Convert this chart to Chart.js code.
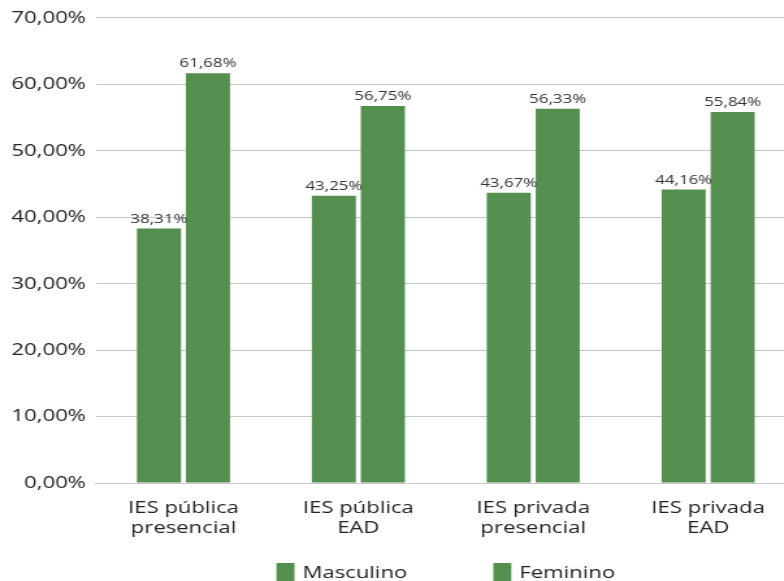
<!DOCTYPE html>
<html>
<head>
<meta charset="utf-8">
<script src="https://cdn.jsdelivr.net/npm/chart.js@4/dist/chart.umd.min.js"></script>
<style>
  html, body { margin: 0; padding: 0; background: #fff; overflow: hidden; }
  #wrap { position: absolute; left: 0; top: 0; width: 615px; height: 600px; transform: scaleX(1.3); transform-origin: 0 0; }
</style>
</head>
<body>
<div id="wrap"><canvas id="c" width="615" height="600"></canvas></div>
<script>
const categories = [["IES pública", "presencial"], ["IES pública", "EAD"], ["IES privada", "presencial"], ["IES privada", "EAD"]];
const masculino = [38.31, 43.25, 43.67, 44.16];
const feminino = [61.68, 56.75, 56.33, 55.84];
const seriesNames = ["Masculino", "Feminino"];
const yTicksMin = 0, yTicksMax = 70, yTicksStep = 10;

const SX = 1.3;
const GREEN = '#548f4f';
const FONT = "'Open Sans', 'Noto Sans', sans-serif";
const fmt = v => v.toFixed(2).replace('.', ',') + '%';

const valueLabels = {
  id: 'valueLabels',
  afterDatasetsDraw(chart) {
    const ctx = chart.ctx;
    ctx.save();
    ctx.font = "13px " + FONT;
    ctx.fillStyle = '#333333';
    ctx.textAlign = 'center';
    ctx.textBaseline = 'bottom';
    chart.data.datasets.forEach((ds, i) => {
      chart.getDatasetMeta(i).data.forEach((el, j) => {
        ctx.fillText(fmt(ds.data[j]), el.x, el.y - 3);
      });
    });
    ctx.restore();
  }
};

const customLegend = {
  id: 'customLegend',
  afterDraw(chart) {
    const ctx = chart.ctx;
    const ca = chart.chartArea;
    ctx.save();
    ctx.font = "17px " + FONT;
    ctx.textBaseline = 'middle';
    const boxW = 18 / SX, boxH = 18, gapText = 8 / SX, gapItem = 86 / SX;
    const items = chart.data.datasets.map(ds => ({ text: ds.label, color: ds.backgroundColor, w: boxW + gapText + ctx.measureText(ds.label).width }));
    const total = items.reduce((s, it) => s + it.w, 0) + gapItem * (items.length - 1);
    let x = (ca.left + ca.right) / 2 - total / 2;
    const y = 572;
    items.forEach(it => {
      ctx.fillStyle = it.color;
      ctx.fillRect(x, y - boxH / 2, boxW, boxH);
      ctx.fillStyle = '#222222';
      ctx.textAlign = 'left';
      ctx.fillText(it.text, x + boxW + gapText, y + 1);
      x += it.w + gapItem;
    });
    ctx.restore();
  }
};

new Chart(document.getElementById('c'), {
  type: 'bar',
  data: {
    labels: categories,
    datasets: [
      { label: seriesNames[0], data: masculino, backgroundColor: GREEN, barPercentage: 0.9, categoryPercentage: 0.56 },
      { label: seriesNames[1], data: feminino, backgroundColor: GREEN, barPercentage: 0.9, categoryPercentage: 0.56 }
    ]
  },
  options: {
    responsive: false,
    animation: false,
    devicePixelRatio: 1,
    layout: { padding: { top: 14, right: 3, bottom: 0, left: 0 } },
    plugins: { legend: { display: false }, tooltip: { enabled: false } },
    scales: {
      x: {
        grid: { display: false, drawTicks: false },
        border: { display: true, color: '#c6c6c6', width: 1 },
        ticks: { color: '#222222', font: { family: FONT, size: 17 }, padding: 15, maxRotation: 0, autoSkip: false },
        afterFit(scale) { scale.height = 117; }
      },
      y: {
        min: yTicksMin, max: yTicksMax,
        grid: { color: '#c6c6c6', lineWidth: 1, drawTicks: false },
        border: { display: false },
        ticks: { stepSize: yTicksStep, color: '#222222', font: { family: FONT, size: 17 }, padding: 10 / SX, callback: v => fmt(v) },
        afterFit(scale) { scale.width = 96 / SX; }
      }
    }
  },
  plugins: [valueLabels, customLegend]
});
</script>
</body>
</html>
